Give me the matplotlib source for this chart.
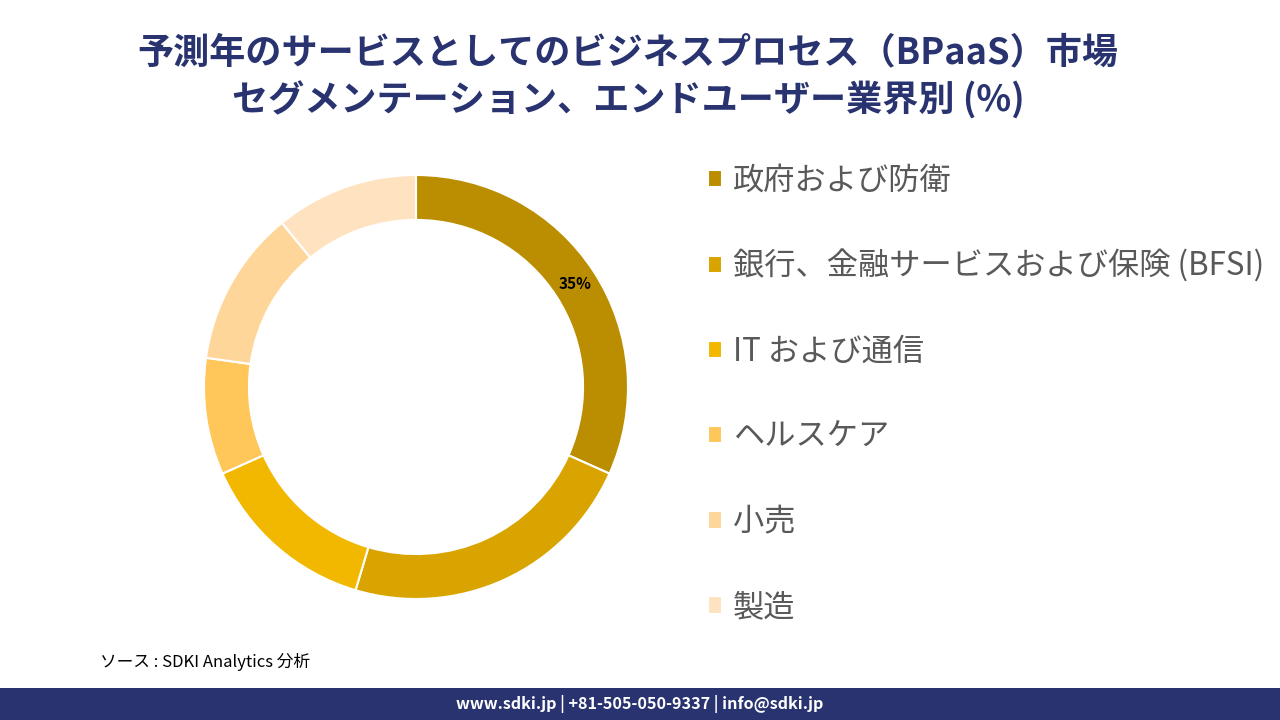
import numpy as np
import matplotlib
matplotlib.use("Agg")
import matplotlib.pyplot as plt
from matplotlib.patches import Rectangle

plt.rcParams['font.family'] = ['Noto Sans CJK JP', 'DejaVu Sans']

# data
segments = ['政府および防衛', '銀行、金融サービスおよび保険 (BFSI)', 'IT および通信',
            'ヘルスケア', '小売', '製造']
shares = [31.7, 22.9, 13.7, 8.9, 11.9, 10.9]
colors = ['#BA8E00', '#D9A400', '#F2B800', '#FFC75A', '#FFD699', '#FFE3C1']
shown_label = '35%'

title = '予測年のサービスとしてのビジネスプロセス（BPaaS）市場\nセグメンテーション、エンドユーザー業界別 (%)'
source = 'ソース : SDKI Analytics 分析'
footer = 'www.sdki.jp | +81-505-050-9337 | info@sdki.jp'

navy = '#283370'

fig = plt.figure(figsize=(12.8, 7.2), dpi=100)

# donut
ax = fig.add_axes([(416 - 212) / 1280, 1 - (387 + 212) / 720, 424 / 1280, 424 / 720])
wedges, _ = ax.pie(shares, colors=colors, startangle=90, counterclock=False,
                   radius=1.0, wedgeprops=dict(width=0.212, edgecolor='white', linewidth=1.5))
ax.set_aspect('equal')
ax.set_xlim(-1, 1)
ax.set_ylim(-1, 1)

w0 = wedges[0]
mid = np.deg2rad((w0.theta1 + w0.theta2) / 2)
ax.text(0.894 * np.cos(mid), 0.894 * np.sin(mid), shown_label, ha='center', va='center',
        fontsize=11, fontweight='bold', color='black')

# legend
leg = fig.legend(wedges, segments, loc='upper left', bbox_to_anchor=(695 / 1280, 1 - 152 / 720),
                 frameon=False, fontsize=22.5, handlelength=0.47, handleheight=0.47,
                 handletextpad=0.35, labelspacing=1.70, borderaxespad=0)
for t in leg.get_texts():
    t.set_color('#595959')

# title
fig.text(628 / 1280, 1 - 77 / 720, title, ha='center', va='center', fontsize=26,
         fontweight='bold', color=navy, linespacing=1.35)

# source
fig.text(100 / 1280, 1 - 662 / 720, source, ha='left', va='center', fontsize=12,
         style='italic', color='black')

# footer bar
fig.patches.append(Rectangle((0, 0), 1, 32 / 720, transform=fig.transFigure,
                             facecolor=navy, edgecolor='none'))
fig.text(640 / 1280, 16 / 720, footer, ha='center', va='center', fontsize=11.6,
         fontweight='bold', color='white')

fig.savefig('out.png', dpi=100, facecolor='white')
